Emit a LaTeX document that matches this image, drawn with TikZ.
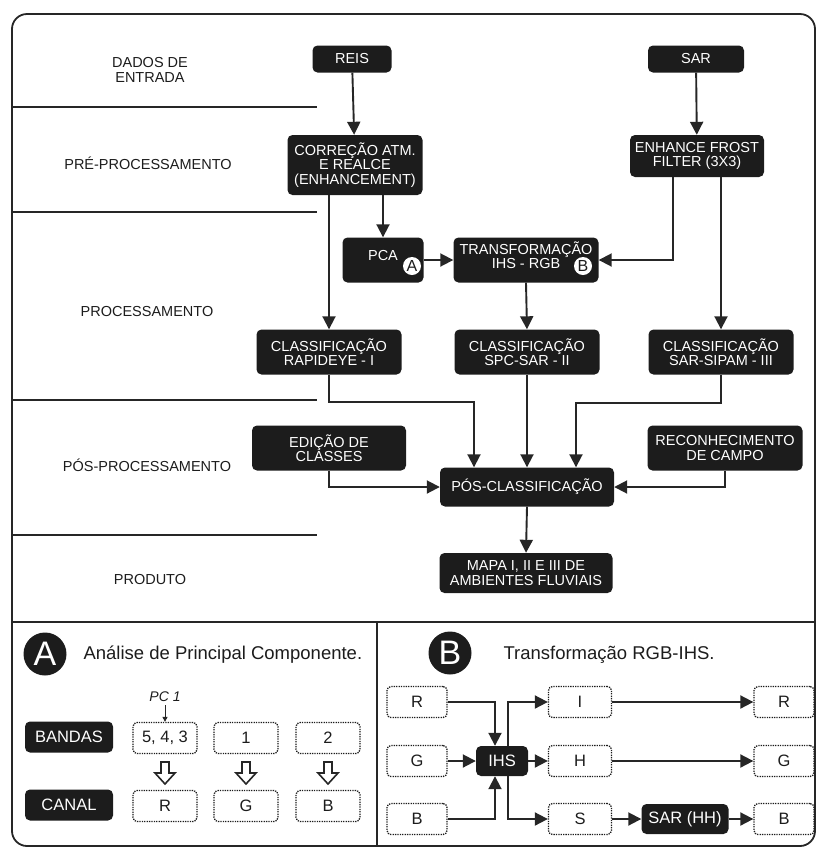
\documentclass[tikz,border=0pt]{standalone}
\usepackage{fontspec}
\setmainfont{Liberation Sans}
\usepackage{tikz}
\usetikzlibrary{arrows.meta}

\definecolor{boxblack}{HTML}{1C1C1C}
\definecolor{linegray}{HTML}{262626}

\newcommand{\nodefont}{\fontsize{14.5}{14.5}\selectfont}
\newcommand{\panelfont}{\fontsize{16.5}{16.5}\selectfont}

\begin{document}
\begin{tikzpicture}[x=1pt,y=-1pt,
    blackbox/.style={fill=boxblack, text=white, rounded corners=5pt, align=center, inner sep=1pt, font=\nodefont},
    dotbox/.style={draw=boxblack, line width=1.3pt, dash pattern=on 1.3pt off 1.1pt, rounded corners=4pt,
        minimum width=62, minimum height=31, inner sep=0pt, font=\panelfont, text=boxblack},
    lane/.style={align=center, font=\nodefont, text=boxblack},
    flow/.style={line width=1.9pt, draw=linegray, -{Triangle[length=13pt,width=13pt]}},
    badge/.style={circle, fill=white, text=boxblack, inner sep=0pt, minimum size=18, font=\fontsize{16}{16}\selectfont},
    bigbadge/.style={circle, fill=boxblack, text=white, inner sep=0pt, minimum size=43, font=\fontsize{34}{34}\selectfont},
    hollow/.style={draw=linegray, line width=1.6pt, fill=white, line join=miter}
]
    \useasboundingbox (0,0) rectangle (817,847);

    % Frame and panel dividers
    \draw[line width=1.8pt, linegray, rounded corners=15pt] (12,14) rectangle (815,846);
    \draw[line width=1.8pt, linegray] (12,622) -- (815,622);
    \draw[line width=1.8pt, linegray] (377,622) -- (377,846);

    % Lane separators
    \foreach \y in {107,212,400,535} {
        \draw[line width=1.6pt, linegray] (12,\y) -- (317,\y);
    }

    % Lane labels
    \node[lane] (lane1) at (150,70) {DADOS DE\\ENTRADA};
    \node[lane] (lane2) at (148,163) {PRÉ-PROCESSAMENTO};
    \node[lane] (lane3) at (147,312) {PROCESSAMENTO};
    \node[lane] (lane4) at (147,465) {PÓS-PROCESSAMENTO};
    \node[lane] (lane5) at (150,580) {PRODUTO};

    % Flowchart boxes
    \node[blackbox, minimum width=79, minimum height=27] (reis) at (352,59) {REIS};
    \node[blackbox, minimum width=96, minimum height=27] (sar) at (696,59) {SAR};
    \node[blackbox, minimum width=135, minimum height=60] (corr) at (355,165) {CORREÇÃO ATM.\\E REALCE\\(ENHANCEMENT)};
    \node[blackbox, minimum width=134, minimum height=42] (frost) at (697,156) {ENHANCE FROST\\FILTER (3X3)};
    \node[blackbox, minimum width=81, minimum height=45] (pca) at (383,260) {PCA\hspace{8pt}\\[-4.5pt]\mbox{}};
    \node[blackbox, minimum width=145, minimum height=45] (trans) at (526,260) {TRANSFORMAÇÃO\\IHS - RGB\hspace{12pt}\\[-4.5pt]\mbox{}};
    \node[blackbox, minimum width=145, minimum height=45] (rapid) at (329,352) {CLASSIFICAÇÃO\\RAPIDEYE - I};
    \node[blackbox, minimum width=145, minimum height=45] (spc) at (527,352) {CLASSIFICAÇÃO\\SPC-SAR - II};
    \node[blackbox, minimum width=145, minimum height=45] (sipam) at (721,352) {CLASSIFICAÇÃO\\SAR-SIPAM - III};
    \node[blackbox, minimum width=154, minimum height=45] (edit) at (329,448) {EDIÇÃO DE\\CLASSES};
    \node[blackbox, minimum width=155, minimum height=45] (recon) at (725,448) {RECONHECIMENTO\\DE CAMPO};
    \node[blackbox, minimum width=174, minimum height=39] (posc) at (527,487) {PÓS-CLASSIFICAÇÃO};
    \node[blackbox, minimum width=173, minimum height=40] (mapa) at (526,573) {MAPA I, II E III DE\\AMBIENTES FLUVIAIS};

    % Badges inside PCA and transformation
    \node[badge] (badgeA) at (412,266) {A};
    \node[badge] (badgeB) at (583,266) {B};

    % Flow connectors
    \draw[flow] (reis) -- (corr);
    \draw[flow] (sar) -- (frost);
    \draw[flow] (rapid.north |- corr.south) -- (rapid.north);
    \draw[flow] (pca.north |- corr.south) -- (pca.north);
    \draw[flow] (pca.east) -- (trans.west);
    \draw[flow] ([xshift=-24pt]frost.south) |- (trans.east);
    \draw[flow] (sipam.north |- frost.south) -- (sipam.north);
    \draw[flow] (trans.south) -- (spc.north);
    \draw[flow] (rapid.south) -- ++(0,27) -| ([xshift=-53pt]posc.north);
    \draw[flow] (spc.south) -- (posc.north);
    \draw[flow] (sipam.south) -- ++(0,28) -| ([xshift=49pt]posc.north);
    \draw[flow] (edit.south) |- (posc.west);
    \draw[flow] (recon.south) |- (posc.east);
    \draw[flow] (posc.south) -- (mapa.north);

    % Panel A
    \node[bigbadge] (circA) at (45,654) {A};
    \node[anchor=west, font=\fontsize{18.5}{18.5}\selectfont, text=boxblack] (titleA) at (80,655) {Análise de Principal Componente.};
    \node[blackbox, font=\panelfont, minimum width=88, minimum height=31] (bandas) at (69,737) {BANDAS};
    \node[blackbox, font=\panelfont, minimum width=88, minimum height=31] (canal) at (69,805) {CANAL};
    \node[dotbox, minimum width=64] (b1) at (165,738) {5, 4, 3};
    \node[dotbox, minimum width=64] (b2) at (246,738) {1};
    \node[dotbox, minimum width=64] (b3) at (328,738) {2};
    \node[dotbox, minimum width=64] (c1) at (165,806) {R};
    \node[dotbox, minimum width=64] (c2) at (246,806) {G};
    \node[dotbox, minimum width=64] (c3) at (328,806) {B};
    \node[font=\fontsize{14}{14}\selectfont\itshape, text=boxblack] (pc) at (165,697) {PC 1};
    \draw[line width=0.9pt, linegray, -{Triangle[length=5pt,width=5pt]}] (pc.south) -- (b1.north);

    % Hollow arrows from bands to channels
    \foreach \x in {165,246,328} {
        \draw[hollow] (\x-4,762) -- (\x+4,762) -- (\x+4,773) -- (\x+10,773) -- (\x,784) -- (\x-10,773) -- (\x-4,773) -- cycle;
    }

    % Panel B
    \node[bigbadge] (circB) at (450,653) {B};
    \node[anchor=west, font=\fontsize{18.5}{18.5}\selectfont, text=boxblack] (titleB) at (500,655) {Transformação RGB-IHS.};
    \node[dotbox, minimum width=60] (inR) at (417,702) {R};
    \node[dotbox, minimum width=60] (inG) at (417,761) {G};
    \node[dotbox, minimum width=60] (inB) at (417,819) {B};
    \node[blackbox, font=\panelfont, minimum width=52, minimum height=30] (ihs) at (502,761) {IHS};
    \node[dotbox, minimum width=63] (oI) at (580,702) {I};
    \node[dotbox, minimum width=63] (oH) at (580,761) {H};
    \node[dotbox, minimum width=63] (oS) at (580,819) {S};
    \node[blackbox, font=\panelfont, minimum width=87, minimum height=30] (sarhh) at (685,819) {SAR (HH)};
    \node[dotbox, minimum width=60] (outR) at (784,702) {R};
    \node[dotbox, minimum width=60] (outG) at (784,761) {G};
    \node[dotbox, minimum width=60] (outB) at (784,819) {B};

    \draw[flow] (inR.east) -| ([xshift=-7pt]ihs.north);
    \draw[flow] (inG.east) -- (ihs.west);
    \draw[flow] (inB.east) -| ([xshift=-7pt]ihs.south);
    \draw[flow] ([xshift=6pt]ihs.north) |- (oI.west);
    \draw[flow] (ihs.east) -- (oH.west);
    \draw[flow] ([xshift=6pt]ihs.south) |- (oS.west);
    \draw[flow] (oI.east) -- (outR.west);
    \draw[flow] (oH.east) -- (outG.west);
    \draw[flow] (oS.east) -- (sarhh.west);
    \draw[flow] (sarhh.east) -- (outB.west);
\end{tikzpicture}
\end{document}
